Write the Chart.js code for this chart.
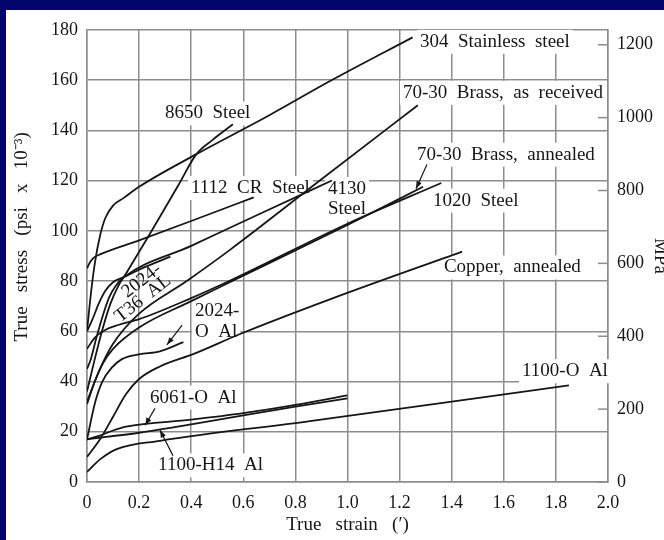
<!DOCTYPE html>
<html><head><meta charset="utf-8">
<script src="https://cdn.jsdelivr.net/npm/chart.js@4"></script>
<style>
html,body{margin:0;padding:0;background:#03036c;width:664px;height:540px;overflow:hidden}
#wrap{position:absolute;left:6px;top:10px;width:670px;height:530px;background:#fff}
canvas{display:block}
</style></head><body>
<div id="wrap"><canvas id="c" width="670" height="530"></canvas></div>
<script>
// ---- data (true strain, true stress in ksi) ----
const xTickValues = [0,0.2,0.4,0.6,0.8,1.0,1.2,1.4,1.6,1.8,2.0];
const xTickLabels = ['0','0.2','0.4','0.6','0.8','1.0','1.2','1.4','1.6','1.8','2.0'];
const yTickValues = [0,20,40,60,80,100,120,140,160,180];
const yTickLabels = ['0','20','40','60','80','100','120','140','160','180'];
const mpaTickValues = [0,200,400,600,800,1000,1200];
const mpaTickLabels = ['0','200','400','600','800','1000','1200'];

const ss304Strain = [0,0.015,0.03,0.05,0.07,0.1,0.14,0.2,0.42,0.7,0.94,1.25];
const ss304Stress = [60,75,87,98,105,110,113,117.5,130.5,146,160,177];
const st8650Strain = [0,0.03,0.06,0.09,0.12,0.15,0.24,0.35,0.42,0.48,0.56];
const st8650Stress = [36,49,61,71,78,83,98.5,118,130.5,136,142.4];
const cr1112Strain = [0,0.01,0.025,0.05,0.2,0.4,0.64];
const cr1112Stress = [85,87.2,89.2,90.6,96.2,103.9,113.3];
const st4130Strain = [0,0.015,0.035,0.06,0.085,0.11,0.14,0.4,0.664,0.94];
const st4130Stress = [45,49,57,66,73.5,78,81.4,94,106.8,120];
const t36Strain = [0,0.02,0.045,0.07,0.1,0.14,0.2,0.32];
const t36Stress = [60,64.5,71,76,79.5,81.5,84.5,89.7];
const st1020Strain = [0,0.03,0.07,0.12,0.2,0.4,0.55,1.0,1.36];
const st1020Stress = [53,57.5,60.5,62.5,64.8,73.2,80.2,102.8,119];
const brassAnnStrain = [0,0.03,0.06,0.1,0.2,0.4,0.55,1.0,1.29];
const brassAnnStress = [31,40,47,53,61.5,72,79.6,102.3,117.5];
const brassRecStrain = [0,0.05,0.1,0.2,0.383,0.55,0.9,1.27];
const brassRecStress = [32,45,55,67,80,92.5,120.5,150];
const copperStrain = [0,0.05,0.1,0.15,0.2,0.28,0.41,0.59,0.94,1.44];
const copperStress = [10,17,26,35,41,46,51,59,73,91.7];
const al2024OStrain = [0,0.032,0.058,0.096,0.134,0.2,0.28,0.37];
const al2024OStress = [17,32,39.8,45.6,48.9,50.8,52,55.7];
const al6061Strain = [0,0.05,0.1,0.15,0.4,0.6,0.8,1.0];
const al6061Stress = [17,18.5,20.5,22,24.8,27.4,30.7,34.5];
const alH14Strain = [0,0.2,0.4,0.6,0.8,1.0];
const alH14Stress = [17,19.6,22.9,26.5,30,33.3];
const al1100OStrain = [0,0.05,0.114,0.28,0.856,1.85];
const al1100OStress = [4,9,13.1,16.4,24.2,38.5];

const curves = [
  ['304 Stainless steel', ss304Strain, ss304Stress],
  ['8650 Steel', st8650Strain, st8650Stress],
  ['1112 CR Steel', cr1112Strain, cr1112Stress],
  ['4130 Steel', st4130Strain, st4130Stress],
  ['2024-T36 Al', t36Strain, t36Stress],
  ['1020 Steel', st1020Strain, st1020Stress],
  ['70-30 Brass, annealed', brassAnnStrain, brassAnnStress],
  ['70-30 Brass, as received', brassRecStrain, brassRecStress],
  ['Copper, annealed', copperStrain, copperStress],
  ['2024-O Al', al2024OStrain, al2024OStress],
  ['6061-O Al', al6061Strain, al6061Stress],
  ['1100-H14 Al', alH14Strain, alH14Stress],
  ['1100-O Al', al1100OStrain, al1100OStress]
];

// ---- annotation text (anchored in data units) ----
const labelTexts = ['304  Stainless  steel','70-30  Brass,  as  received','70-30  Brass,  annealed','1020  Steel','Copper,  annealed','4130','Steel','1112  CR  Steel','8650  Steel','2024-','O  Al','6061-O  Al','1100-H14  Al','1100-O  Al','2024-','T36  AL'];
const labelStrain = [1.278,1.213,1.267,1.328,1.370,0.925,0.925,0.399,0.299,0.415,0.415,0.242,0.273,1.670,0.21,0.215];
const labelStress = [175.2,154.9,130.3,112.0,85.4,116.6,108.8,117.0,146.7,67.9,59.7,33.6,6.6,44.1,80.1,73.0];
const labelAngle  = [0,0,0,0,0,0,0,0,0,0,0,0,0,0,-38,-38];
const labelAlign  = ['left','left','left','left','left','left','left','left','left','left','left','left','left','left','center','center'];

const arrowFromStrain = [1.305,0.365,0.261,0.33];
const arrowFromStress = [126.4,62.4,29.3,10.5];
const arrowToStrain   = [1.263,0.307,0.223,0.28];
const arrowToStress   = [116.7,54.6,22.6,20.7];

const KSI_TO_MPA = 6.894757;
const FONT = "'Liberation Serif', 'Times New Roman', serif";
const INK = '#161616';
const GRID = '#8d8d8d';
const LABEL_FONT = '19px ' + FONT;

const annotations = {
  id: 'annotations',
  beforeDatasetsDraw(chart) {
    const {ctx, scales:{x, y}} = chart;
    ctx.save();
    ctx.font = LABEL_FONT;
    ctx.fillStyle = '#fff';
    labelTexts.forEach((t, i) => {
      if (labelAngle[i] !== 0) return;
      const px = x.getPixelForValue(labelStrain[i]);
      const py = y.getPixelForValue(labelStress[i]);
      const w = ctx.measureText(t).width;
      ctx.fillRect(px - 3, py - 12, w + 6, 24);
    });
    ctx.restore();
  },
  afterDatasetsDraw(chart) {
    const {ctx, scales:{x, y, y2}, chartArea} = chart;
    ctx.save();
    ctx.strokeStyle = GRID; ctx.lineWidth = 1.5;
    y2.ticks.forEach(tk => {
      const py = y2.getPixelForValue(tk.value);
      ctx.beginPath(); ctx.moveTo(chartArea.right - 10, py); ctx.lineTo(chartArea.right, py); ctx.stroke();
    });
    ctx.font = LABEL_FONT;
    ctx.fillStyle = INK;
    ctx.textBaseline = 'middle';
    labelTexts.forEach((t, i) => {
      const px = x.getPixelForValue(labelStrain[i]);
      const py = y.getPixelForValue(labelStress[i]);
      ctx.save();
      ctx.translate(px, py);
      ctx.rotate(labelAngle[i] * Math.PI / 180);
      ctx.textAlign = labelAlign[i];
      ctx.fillText(t, 0, 0);
      ctx.restore();
    });
    ctx.strokeStyle = INK; ctx.fillStyle = INK; ctx.lineWidth = 1.2;
    arrowFromStrain.forEach((v, i) => {
      const x1 = x.getPixelForValue(v), y1 = y.getPixelForValue(arrowFromStress[i]);
      const x2 = x.getPixelForValue(arrowToStrain[i]), y2p = y.getPixelForValue(arrowToStress[i]);
      ctx.beginPath(); ctx.moveTo(x1, y1); ctx.lineTo(x2, y2p); ctx.stroke();
      const a = Math.atan2(y2p - y1, x2 - x1);
      ctx.beginPath();
      ctx.moveTo(x2, y2p);
      ctx.lineTo(x2 - 8 * Math.cos(a - 0.35), y2p - 8 * Math.sin(a - 0.35));
      ctx.lineTo(x2 - 8 * Math.cos(a + 0.35), y2p - 8 * Math.sin(a + 0.35));
      ctx.closePath(); ctx.fill();
    });
    ctx.restore();
  }
};

new Chart(document.getElementById('c'), {
  type: 'line',
  data: {
    datasets: curves.map(([name, sx, sy]) => ({
      label: name,
      data: sx.map((v, i) => ({x: v, y: sy[i]})),
      borderColor: INK,
      borderWidth: 1.8,
      pointRadius: 0,
      fill: false,
      cubicInterpolationMode: 'monotone',
      yAxisID: 'y'
    }))
  },
  options: {
    responsive: false,
    animation: false,
    events: [],
    layout: {padding: {top: 10, left: 0, right: 0, bottom: 0}},
    plugins: {legend: {display: false}, tooltip: {enabled: false}},
    scales: {
      x: {
        type: 'linear', min: 0, max: 2,
        afterBuildTicks: s => { s.ticks = xTickValues.map(v => ({value: v})); },
        afterFit: s => { s.height = 58; },
        ticks: {callback: (v, i) => xTickLabels[i], color: INK, font: {family: FONT, size: 18}, padding: 10, maxRotation: 0, autoSkip: false},
        grid: {color: GRID, lineWidth: 1.5, drawTicks: false},
        border: {color: GRID, width: 1.5},
        title: {display: true, text: 'True   strain   (′)', color: INK, font: {family: FONT, size: 19}, padding: {top: 0, bottom: 4}}
      },
      y: {
        type: 'linear', position: 'left', min: 0, max: 180,
        afterBuildTicks: s => { s.ticks = yTickValues.map(v => ({value: v})); },
        afterFit: s => { s.width = 81; },
        ticks: {callback: (v, i) => yTickLabels[i], color: INK, font: {family: FONT, size: 18}, padding: 9, autoSkip: false},
        grid: {color: GRID, lineWidth: 1.5, drawTicks: false},
        border: {color: GRID, width: 1.5},
        title: {display: true, text: '\u2002\u2002\u2002\u2002True   stress   (psi   x   10\u207B\u00B3)', color: INK, font: {family: FONT, size: 19}, padding: {top: 5, bottom: 0}}
      },
      y2: {
        type: 'linear', position: 'right', min: 0, max: 180 * KSI_TO_MPA,
        afterBuildTicks: s => { s.ticks = mpaTickValues.map(v => ({value: v})); },
        afterFit: s => { s.width = 68; },
        ticks: {callback: (v, i) => mpaTickLabels[i], color: INK, font: {family: FONT, size: 18}, padding: 9, autoSkip: false},
        grid: {drawOnChartArea: false, drawTicks: false},
        border: {color: GRID, width: 1.5},
        title: {display: true, text: 'MPa', color: INK, font: {family: FONT, size: 19}, padding: {top: 5, bottom: 0}}
      }
    }
  },
  plugins: [annotations]
});
</script>
</body></html>
